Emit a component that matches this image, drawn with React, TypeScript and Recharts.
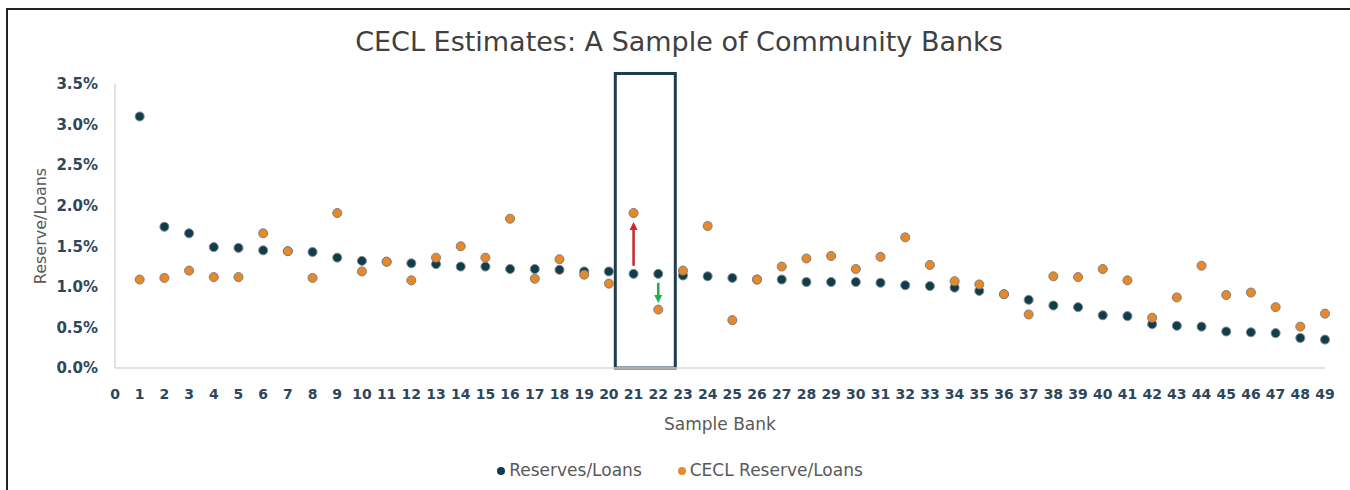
import React from "react";
import {
  ScatterChart,
  Scatter,
  XAxis,
  YAxis,
  Legend,
  ReferenceArea,
  ReferenceLine,
} from "recharts";

const banks = [
  1, 2, 3, 4, 5, 6, 7, 8, 9, 10, 11, 12, 13, 14, 15, 16, 17, 18, 19, 20, 21, 22, 23, 24, 25,
  26, 27, 28, 29, 30, 31, 32, 33, 34, 35, 36, 37, 38, 39, 40, 41, 42, 43, 44, 45, 46, 47, 48, 49,
];

const reserves = [
  3.1, 1.74, 1.66, 1.49, 1.48, 1.45, 1.44, 1.43, 1.36, 1.32, 1.31, 1.29, 1.28, 1.25, 1.25, 1.22,
  1.22, 1.21, 1.19, 1.19, 1.16, 1.16, 1.14, 1.13, 1.11, 1.09, 1.09, 1.06, 1.06, 1.06, 1.05, 1.02,
  1.01, 0.99, 0.95, 0.91, 0.84, 0.77, 0.75, 0.65, 0.64, 0.54, 0.52, 0.51, 0.45, 0.44, 0.43, 0.37,
  0.35,
];

const cecl = [
  1.09, 1.11, 1.2, 1.12, 1.12, 1.66, 1.44, 1.11, 1.91, 1.19, 1.31, 1.08, 1.36, 1.5, 1.36, 1.84,
  1.1, 1.34, 1.15, 1.04, 1.91, 0.72, 1.2, 1.75, 0.59, 1.09, 1.25, 1.35, 1.38, 1.22, 1.37, 1.61,
  1.27, 1.07, 1.03, 0.91, 0.66, 1.13, 1.12, 1.22, 1.08, 0.62, 0.87, 1.26, 0.9, 0.93, 0.75, 0.51,
  0.67,
];

const xTicks = [
  0, 1, 2, 3, 4, 5, 6, 7, 8, 9, 10, 11, 12, 13, 14, 15, 16, 17, 18, 19, 20, 21, 22, 23, 24, 25,
  26, 27, 28, 29, 30, 31, 32, 33, 34, 35, 36, 37, 38, 39, 40, 41, 42, 43, 44, 45, 46, 47, 48, 49,
];
const yTicks = [0, 0.5, 1, 1.5, 2, 2.5, 3, 3.5];

const seriesNames = ["Reserves/Loans", "CECL Reserve/Loans"];

// highlighted box (banks 21-22) and arrows
const boxRange = { x1: 20.26, x2: 22.69, y1: 0, y2: 3.63 };
const upArrow = { x: 21, from: 1.26, to: 1.8 };
const downArrow = { x: 22, from: 1.05, to: 0.8 };

const reservesData = banks.map((b, i) => ({ x: b, y: reserves[i] }));
const ceclData = banks.map((b, i) => ({ x: b, y: cecl[i] }));

const FONT = "'DejaVu Sans', sans-serif";
const TICK_COLOR = "#2E4659";
const LABEL_COLOR = "#595959";

const makeArrow = (color: string) => (props: any) => {
  const { x1, y1, x2, y2 } = props;
  const dir = y2 < y1 ? -1 : 1;
  const head = 8;
  const half = 4;
  return (
    <g>
      <line x1={x1} y1={y1} x2={x2} y2={y2 - dir * head} stroke={color} strokeWidth={2.5} />
      <polygon
        points={`${x2},${y2} ${x2 - half},${y2 - dir * head} ${x2 + half},${y2 - dir * head}`}
        fill={color}
      />
    </g>
  );
};

const YLabel = (props: any) => {
  const { x, y, height } = props.viewBox;
  const cx = x + 25;
  const cy = y + height / 2;
  return (
    <text
      x={cx}
      y={cy}
      transform={`rotate(-90, ${cx}, ${cy})`}
      textAnchor="middle"
      dominantBaseline="central"
      fill={LABEL_COLOR}
      fontSize={16}
      fontFamily={FONT}
    >
      Reserve/Loans
    </text>
  );
};

export default function App() {
  return (
    <div style={{ position: "relative", width: 1342, height: 472, background: "#fff" }}>
      <div
        style={{
          position: "fixed",
          left: 6,
          top: 8,
          width: 1344,
          height: 2,
          background: "#222",
        }}
      />
      <div
        style={{
          position: "fixed",
          left: 6,
          top: 8,
          width: 2,
          height: 482,
          background: "#222",
        }}
      />
      <div
        style={{
          position: "absolute",
          top: 20,
          left: 0,
          width: 1342,
          textAlign: "center",
          fontFamily: FONT,
          fontSize: 27,
          lineHeight: "28px",
          color: "#404040",
        }}
      >
        CECL Estimates: A Sample of Community Banks
      </div>
      <div style={{ position: "absolute", top: 2, left: 0 }}>
        <ScatterChart
          width={1342}
          height={470}
          margin={{ top: 74, right: 25, left: 7, bottom: 22 }}
        >
          <XAxis
            type="number"
            dataKey="x"
            domain={[0, 49]}
            ticks={xTicks}
            interval={0}
            allowDecimals={false}
            height={70}
            tickSize={0}
            tickMargin={21}
            stroke="#D9D9D9"
            strokeWidth={1.5}
            tick={{ fill: TICK_COLOR, fontSize: 14, fontWeight: 700, fontFamily: FONT }}
            label={{
              value: "Sample Bank",
              position: "insideBottom",
              offset: 8,
              fill: LABEL_COLOR,
              fontSize: 17,
              fontFamily: FONT,
            }}
          />
          <YAxis
            type="number"
            dataKey="y"
            domain={[0, 3.5]}
            ticks={yTicks}
            interval={0}
            width={100}
            tickSize={0}
            tickMargin={17}
            stroke="#D9D9D9"
            strokeWidth={1.5}
            tickFormatter={(v: number) => `${v.toFixed(1)}%`}
            tick={{ fill: TICK_COLOR, fontSize: 15, fontWeight: 700, fontFamily: FONT }}
            label={<YLabel />}
          />
          <Legend
            verticalAlign="bottom"
            align="center"
            iconType="circle"
            iconSize={8}
            itemSorter={(item: any) => seriesNames.indexOf(item.value)}
            wrapperStyle={{ bottom: 0, left: 22, fontFamily: FONT, fontSize: 17 }}
            formatter={(value: string) => (
              <span
                style={{
                  color: LABEL_COLOR,
                  marginRight: value === seriesNames[0] ? 26 : 0,
                }}
              >
                {value}
              </span>
            )}
          />
          <Scatter
            name={seriesNames[0]}
            data={reservesData}
            fill="#0F3D4C"
            stroke="#8A8A8A"
            strokeWidth={1}
            isAnimationActive={false}
          />
          <Scatter
            name={seriesNames[1]}
            data={ceclData}
            fill="#E5892A"
            stroke="#7F7F7F"
            strokeWidth={1}
            isAnimationActive={false}
          />
          <ReferenceArea
            x1={boxRange.x1}
            x2={boxRange.x2}
            y1={boxRange.y1}
            y2={boxRange.y2}
            ifOverflow="visible"
            fill="none"
            fillOpacity={0}
            stroke="#1E3D4E"
            strokeWidth={3}
          />
          <ReferenceLine
            segment={[
              { x: upArrow.x, y: upArrow.from },
              { x: upArrow.x, y: upArrow.to },
            ]}
            ifOverflow="visible"
            shape={makeArrow("#C8272D")}
          />
          <ReferenceLine
            segment={[
              { x: downArrow.x, y: downArrow.from },
              { x: downArrow.x, y: downArrow.to },
            ]}
            ifOverflow="visible"
            shape={makeArrow("#1DB14B")}
          />
        </ScatterChart>
      </div>
    </div>
  );
}
